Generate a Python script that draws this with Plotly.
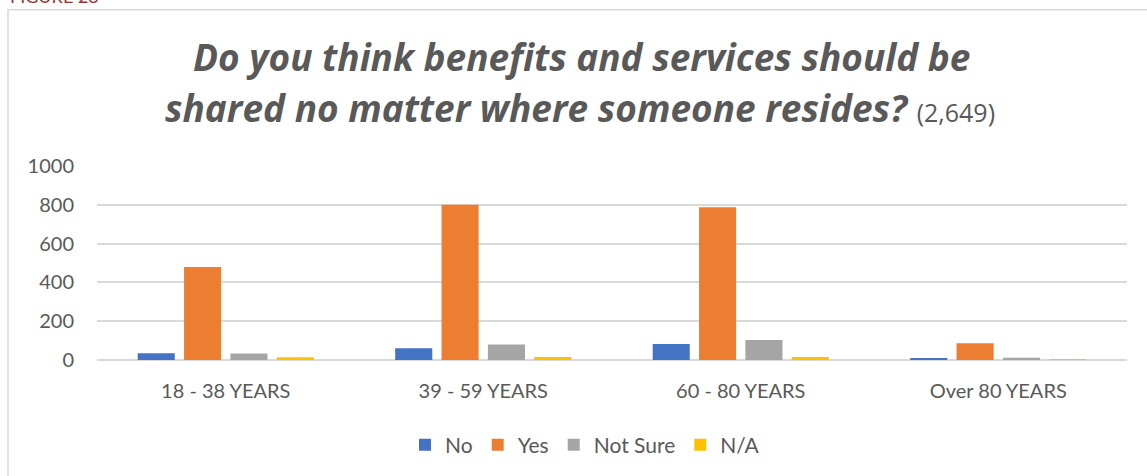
import plotly.graph_objects as go

categories = ["18 - 38 YEARS", "39 - 59 YEARS", "60 - 80 YEARS", "Over 80 YEARS"]
series_names = ["No", "Yes", "Not Sure", "N/A"]
no_vals = [35, 60, 82, 10]
yes_vals = [480, 800, 788, 86]
notsure_vals = [33, 80, 103, 12]
na_vals = [14, 15, 15, 5]
colors = ["#4472C4", "#ED7D31", "#A5A5A5", "#FFC000"]
y_ticks = [0, 200, 400, 600, 800, 1000]

W, H = 1147, 476
L, R, T, B = 97, 20, 166, 115
pw, ph = W - L - R, H - T - B

def px(x):
    return (x - L) / pw

def py(y):
    return (H - B - y) / ph

fig = go.Figure()
for name, vals, c in zip(series_names, [no_vals, yes_vals, notsure_vals, na_vals], colors):
    fig.add_trace(go.Bar(name=name, x=categories, y=vals, marker=dict(color=c, line=dict(width=0))))

font_family = "Lato, 'Open Sans', sans-serif"
title_family = "'Open Sans', Lato, sans-serif"
grey = "#595959"

fig.update_layout(
    width=W, height=H,
    margin=dict(l=L, r=R, t=T, b=B, pad=0),
    paper_bgcolor="white", plot_bgcolor="white",
    barmode="group", bargap=0.28, bargroupgap=0.2,
    font=dict(family=font_family, color=grey, size=20),
    showlegend=True,
    legend=dict(orientation="h", x=px(585), xanchor="center", y=py(445), yanchor="middle",
                font=dict(size=21, color=grey), itemwidth=30, traceorder="normal"),
    xaxis=dict(showgrid=False, showline=False, ticks="", ticklabelstandoff=17,
               tickfont=dict(size=20, color=grey)),
    yaxis=dict(range=[0, 1000], tickvals=y_ticks, showgrid=True, gridcolor="#d9d9d9", gridwidth=1.5,
               zeroline=True, zerolinecolor="#d9d9d9", zerolinewidth=1.5, showline=False,
               ticks="", ticklabelstandoff=22, tickfont=dict(size=20, color=grey)),
    annotations=[
        dict(text="<b><i>Do you think benefits and services should be</i></b>", xref="paper", yref="paper",
             x=px(582), y=py(56), xanchor="center", yanchor="middle", showarrow=False,
             font=dict(size=37, color=grey, family=title_family)),
        dict(text="<b><i>shared no matter where someone resides?</i></b> <span style='font-size:25px'>(2,649)</span>",
             xref="paper", yref="paper",
             x=px(580), y=py(107), xanchor="center", yanchor="middle", showarrow=False,
             font=dict(size=37, color=grey, family=title_family)),
        dict(text="FIGURE 23", xref="paper", yref="paper", x=px(8), y=py(8), xanchor="left", yanchor="bottom",
             showarrow=False, font=dict(size=18, color="#943634", family=font_family)),
    ],
    shapes=[
        dict(type="rect", xref="paper", yref="paper", x0=px(8), y0=py(500), x1=px(1200), y1=py(9),
             line=dict(color="#d9d9d9", width=1.5), fillcolor="rgba(0,0,0,0)", layer="below"),
    ],
)

fig.write_html("out.html", config={"displayModeBar": False},
               post_script="document.body.style.margin='0';document.body.style.overflow='hidden';")
